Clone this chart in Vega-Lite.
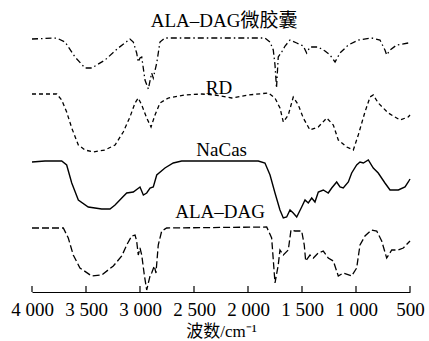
{
  "$schema": "https://vega.github.io/schema/vega-lite/v6.json",
  "width": 378,
  "height": 292,
  "autosize": {"type": "none"},
  "padding": {"left": 32, "right": 19, "top": 0, "bottom": 49},
  "config": {"view": {"stroke": null}, "font": "Liberation Serif"},
  "datasets": {
    "cap": [
      {"w":4000,"t":252},{"w":3771,"t":253},{"w":3694,"t":249},{"w":3602,"t":234},{"w":3509,"t":223},{"w":3447,"t":223},{"w":3324,"t":231},{"w":3201,"t":243},{"w":3093,"t":252},{"w":3062,"t":249},{"w":3031,"t":238},{"w":3016,"t":229},{"w":3000,"t":233},{"w":2984,"t":234},{"w":2954,"t":211},{"w":2923,"t":202},{"w":2892,"t":218},{"w":2877,"t":213},{"w":2845,"t":228},{"w":2815,"t":249},{"w":2769,"t":253},{"w":1843,"t":253},{"w":1796,"t":249},{"w":1766,"t":241},{"w":1750,"t":226},{"w":1736,"t":203},{"w":1720,"t":234},{"w":1688,"t":239},{"w":1657,"t":245},{"w":1611,"t":251},{"w":1549,"t":248},{"w":1488,"t":245},{"w":1457,"t":238},{"w":1426,"t":244},{"w":1352,"t":244},{"w":1287,"t":240},{"w":1241,"t":236},{"w":1194,"t":229},{"w":1148,"t":238},{"w":1071,"t":246},{"w":979,"t":251},{"w":855,"t":253},{"w":778,"t":251},{"w":732,"t":241},{"w":716,"t":236},{"w":685,"t":241},{"w":623,"t":246},{"w":516,"t":248},{"w":500,"t":248}
    ],
    "rd": [
      {"w":4000,"t":197},{"w":3771,"t":197},{"w":3725,"t":191},{"w":3679,"t":179},{"w":3632,"t":163},{"w":3571,"t":146},{"w":3509,"t":141},{"w":3432,"t":139},{"w":3324,"t":141},{"w":3231,"t":146},{"w":3155,"t":159},{"w":3093,"t":174},{"w":3046,"t":188},{"w":3016,"t":193},{"w":2984,"t":186},{"w":2938,"t":173},{"w":2898,"t":164},{"w":2861,"t":176},{"w":2815,"t":188},{"w":2738,"t":193},{"w":2583,"t":196},{"w":2429,"t":197},{"w":2306,"t":196},{"w":2151,"t":193},{"w":1997,"t":196},{"w":1812,"t":198},{"w":1750,"t":193},{"w":1704,"t":183},{"w":1673,"t":169},{"w":1627,"t":176},{"w":1581,"t":194},{"w":1534,"t":186},{"w":1488,"t":173},{"w":1426,"t":161},{"w":1349,"t":164},{"w":1271,"t":173},{"w":1210,"t":166},{"w":1164,"t":151},{"w":1086,"t":144},{"w":1025,"t":141},{"w":979,"t":156},{"w":917,"t":179},{"w":870,"t":194},{"w":840,"t":196},{"w":794,"t":188},{"w":701,"t":178},{"w":593,"t":171},{"w":516,"t":174},{"w":500,"t":176}
    ],
    "nacas": [
      {"w":4000,"t":129},{"w":3880,"t":130},{"w":3725,"t":130},{"w":3679,"t":126},{"w":3632,"t":108},{"w":3571,"t":91},{"w":3479,"t":84},{"w":3355,"t":82},{"w":3278,"t":82},{"w":3231,"t":86},{"w":3169,"t":93},{"w":3123,"t":98},{"w":3062,"t":99},{"w":3000,"t":104},{"w":2969,"t":96},{"w":2938,"t":98},{"w":2907,"t":103},{"w":2877,"t":104},{"w":2845,"t":116},{"w":2769,"t":123},{"w":2692,"t":128},{"w":2614,"t":130},{"w":1905,"t":130},{"w":1843,"t":128},{"w":1796,"t":116},{"w":1750,"t":98},{"w":1704,"t":81},{"w":1673,"t":73},{"w":1642,"t":74},{"w":1611,"t":81},{"w":1581,"t":78},{"w":1549,"t":74},{"w":1503,"t":84},{"w":1472,"t":91},{"w":1442,"t":88},{"w":1410,"t":93},{"w":1380,"t":89},{"w":1349,"t":99},{"w":1303,"t":101},{"w":1257,"t":98},{"w":1225,"t":103},{"w":1179,"t":109},{"w":1148,"t":104},{"w":1118,"t":103},{"w":1071,"t":109},{"w":1040,"t":118},{"w":994,"t":126},{"w":963,"t":129},{"w":932,"t":128},{"w":886,"t":131},{"w":840,"t":123},{"w":794,"t":118},{"w":732,"t":108},{"w":685,"t":101},{"w":608,"t":101},{"w":546,"t":104},{"w":516,"t":109},{"w":500,"t":112}
    ],
    "dag": [
      {"w":4000,"t":63},{"w":3710,"t":63},{"w":3664,"t":53},{"w":3618,"t":36},{"w":3556,"t":23},{"w":3447,"t":15},{"w":3355,"t":16},{"w":3247,"t":25},{"w":3169,"t":35},{"w":3123,"t":46},{"w":3077,"t":55},{"w":3046,"t":56},{"w":3031,"t":50},{"w":3016,"t":36},{"w":3000,"t":43},{"w":2984,"t":36},{"w":2960,"t":16},{"w":2938,"t":1},{"w":2907,"t":15},{"w":2892,"t":18},{"w":2868,"t":25},{"w":2852,"t":18},{"w":2831,"t":46},{"w":2799,"t":60},{"w":2753,"t":63},{"w":1827,"t":64},{"w":1781,"t":53},{"w":1750,"t":8},{"w":1720,"t":26},{"w":1704,"t":41},{"w":1673,"t":36},{"w":1627,"t":41},{"w":1602,"t":61},{"w":1565,"t":60},{"w":1503,"t":60},{"w":1479,"t":46},{"w":1466,"t":30},{"w":1426,"t":36},{"w":1395,"t":33},{"w":1349,"t":38},{"w":1303,"t":40},{"w":1257,"t":33},{"w":1210,"t":30},{"w":1164,"t":15},{"w":1118,"t":18},{"w":1040,"t":15},{"w":994,"t":23},{"w":963,"t":46},{"w":917,"t":55},{"w":855,"t":61},{"w":808,"t":60},{"w":762,"t":50},{"w":716,"t":33},{"w":669,"t":41},{"w":608,"t":41},{"w":562,"t":43},{"w":500,"t":50}
    ],
    "ticks": [
      {"w":4000,"t":-1,"t2":5},{"w":3500,"t":-1,"t2":5},{"w":3000,"t":-1,"t2":5},{"w":2500,"t":-1,"t2":5},{"w":2000,"t":-1,"t2":5},{"w":1500,"t":-1,"t2":5},{"w":1000,"t":-1,"t2":5},{"w":500,"t":-1,"t2":5}
    ],
    "labels": [
      {"w":2222,"t":270.5,"label":"ALA–DAG微胶囊"},
      {"w":2269,"t":203.5,"label":"RD"},
      {"w":2244,"t":141.5,"label":"NaCas"},
      {"w":2259,"t":79.5,"label":"ALA–DAG"}
    ]
  },
  "encoding": {
    "x": {
      "field": "w", "type": "quantitative",
      "scale": {"domain": [500, 4000], "reverse": true, "nice": false, "zero": false},
      "axis": {
        "values": [4000, 3500, 3000, 2500, 2000, 1500, 1000, 500],
        "labelExpr": "replace(format(datum.value, ','), ',', ' ')",
        "labelOverlap": false,
        "labelFlush": false,
        "grid": false,
        "domainColor": "black", "domainWidth": 1.2,
        "ticks": false,
        "labelFont": "Liberation Serif", "labelFontSize": 19, "labelColor": "black", "labelPadding": 8,
        "title": "波数/cm⁻¹",
        "titleFont": "Liberation Serif, Noto Sans CJK SC", "titleFontSize": 17, "titleFontWeight": "normal", "titleColor": "black", "titlePadding": 4
      }
    },
    "y": {
      "field": "t", "type": "quantitative",
      "scale": {"domain": [-1, 291], "nice": false, "zero": false},
      "axis": null
    }
  },
  "layer": [
    {"data": {"name": "ticks"}, "mark": {"type": "rule", "color": "black", "strokeWidth": 1.2}, "encoding": {"y2": {"field": "t2"}}},
    {"data": {"name": "cap"}, "mark": {"type": "line", "color": "black", "strokeWidth": 1.3, "strokeDash": [6, 3, 1.5, 3]}},
    {"data": {"name": "rd"}, "mark": {"type": "line", "color": "black", "strokeWidth": 1.3, "strokeDash": [4, 3]}},
    {"data": {"name": "nacas"}, "mark": {"type": "line", "color": "black", "strokeWidth": 1.4}},
    {"data": {"name": "dag"}, "mark": {"type": "line", "color": "black", "strokeWidth": 1.3, "strokeDash": [7, 3]}},
    {"data": {"name": "labels"}, "mark": {"type": "text", "font": "Liberation Serif, Noto Sans CJK SC", "fontSize": 19, "color": "black", "align": "center", "baseline": "middle"}, "encoding": {"text": {"field": "label"}}}
  ]
}
